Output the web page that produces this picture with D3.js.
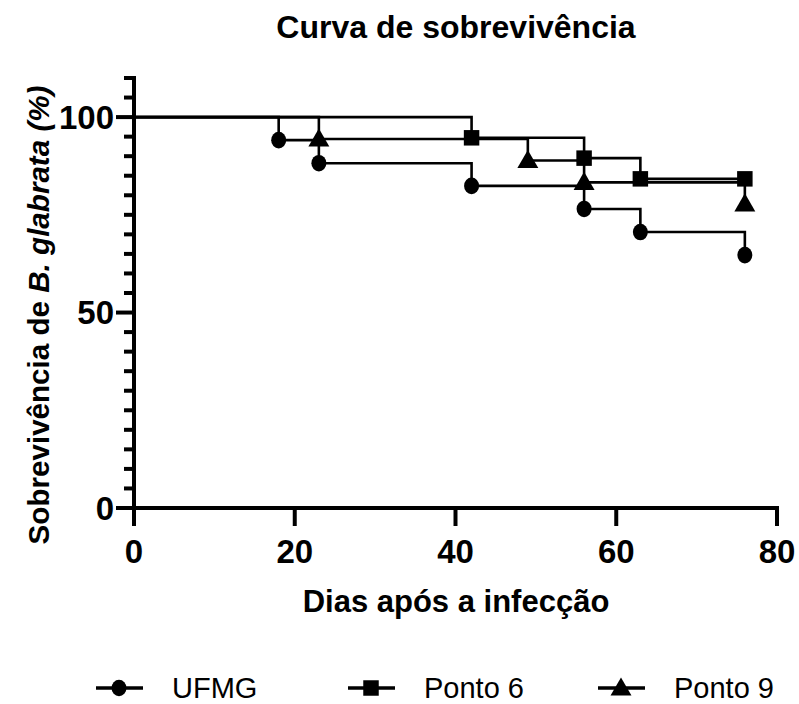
<!DOCTYPE html>
<html><head><meta charset="utf-8">
<script src="https://cdn.jsdelivr.net/npm/d3@7"></script>
<style>body{margin:0;background:#fff}svg{display:block}text{font-family:"Liberation Sans",Arial,sans-serif}</style>
</head><body>
<svg id="c" width="799" height="704"></svg>
<script>
const seriesNames = ["UFMG", "Ponto 6", "Ponto 9"];
const seriesSymbols = ["circle", "square", "triangle"];
const ufmgDays = [0, 18, 23, 42, 56, 63, 76];
const ufmgSurv = [100, 94.1, 88.2, 82.4, 76.5, 70.6, 64.7];
const ponto6Days = [0, 42, 56, 63, 76];
const ponto6Surv = [100, 94.7, 89.5, 84.2, 84.2];
const ponto9Days = [0, 23, 49, 56, 76];
const ponto9Surv = [100, 94.4, 88.9, 83.3, 77.8];
const xTicks = [0, 20, 40, 60, 80];
const yTicks = [0, 50, 100];

const series = [
  {name: seriesNames[0], sym: seriesSymbols[0], pts: ufmgDays.map((d,i)=>[d, ufmgSurv[i]])},
  {name: seriesNames[1], sym: seriesSymbols[1], pts: ponto6Days.map((d,i)=>[d, ponto6Surv[i]])},
  {name: seriesNames[2], sym: seriesSymbols[2], pts: ponto9Days.map((d,i)=>[d, ponto9Surv[i]])}
];

const svg = d3.select("#c");
const x = d3.scaleLinear().domain([0, 80]).range([134, 777]);
const y = d3.scaleLinear().domain([0, 110]).range([508, 78]);

const symType = {circle: d3.symbolCircle, square: d3.symbolSquare, triangle: d3.symbolTriangle};
const symSize = {circle: 190, square: 240, triangle: 190};
function drawSym(sel, sym) {
  if (sym === "circle") {
    sel.append("ellipse").attr("rx",7.5).attr("ry",8.3).attr("fill","#000");
  } else {
    sel.append("path").attr("d", d3.symbol().type(symType[sym]).size(symSize[sym]))
      .attr("transform", sym==="triangle" ? "translate(0,1.5)" : null).attr("fill","#000");
  }
}

// step curves
const line = d3.line().x(d=>x(d[0])).y(d=>y(d[1])).curve(d3.curveStepAfter);
series.forEach(s => {
  svg.append("path").attr("d", line(s.pts)).attr("fill","none").attr("stroke","#000").attr("stroke-width",2.6);
});
series.forEach(s => {
  s.pts.slice(1).forEach(d => {
    const g = svg.append("g").attr("transform", `translate(${x(d[0])},${y(d[1])})`);
    drawSym(g, s.sym);
  });
});

// y axis
const yMinor = d3.range(0, 111, 5);
const yAxis = svg.append("g").attr("transform", `translate(${x(0)},0)`);
yAxis.selectAll("line.minor").data(yMinor).enter().append("line")
  .attr("x1", d => yTicks.includes(d) ? -18 : -10).attr("x2", 0)
  .attr("y1", d=>y(d)).attr("y2", d=>y(d))
  .attr("stroke","#000").attr("stroke-width",4);
yAxis.append("line").attr("x1",0).attr("x2",0).attr("y1",y(0)+2).attr("y2",y(110)-2)
  .attr("stroke","#000").attr("stroke-width",4);
yAxis.selectAll("text").data(yTicks).enter().append("text")
  .attr("x",-20).attr("y",d=>y(d)).attr("dy","0.36em").attr("text-anchor","end")
  .attr("font-size",33).attr("font-weight","bold").text(d=>d);

// x axis
const xAxis = svg.append("g").attr("transform", `translate(0,${y(0)})`);
xAxis.append("line").attr("x1",x(0)-2).attr("x2",x(80)+2).attr("y1",0).attr("y2",0)
  .attr("stroke","#000").attr("stroke-width",4);
xAxis.selectAll("line.t").data(xTicks).enter().append("line")
  .attr("x1",d=>x(d)).attr("x2",d=>x(d)).attr("y1",0).attr("y2",18)
  .attr("stroke","#000").attr("stroke-width",4);
xAxis.selectAll("text").data(xTicks).enter().append("text")
  .attr("x",d=>x(d)).attr("y",55).attr("text-anchor","middle")
  .attr("font-size",33).attr("font-weight","bold").text(d=>d);

// titles
svg.append("text").attr("x",456).attr("y",38).attr("text-anchor","middle")
  .attr("font-size",32).attr("font-weight","bold").text("Curva de sobrevivência");
svg.append("text").attr("x",456).attr("y",612).attr("text-anchor","middle")
  .attr("font-size",31).attr("font-weight","bold").text("Dias após a infecção");
const yt = svg.append("text").attr("transform","translate(49,315) rotate(-90)").attr("text-anchor","middle")
  .attr("font-size",29.6).attr("font-weight","bold");
yt.append("tspan").text("Sobrevivência de ");
yt.append("tspan").attr("font-style","italic").text("B. glabrata (%)");

// legend
const legX = [96, 348, 598];
series.forEach((s,i) => {
  const g = svg.append("g").attr("transform",`translate(${legX[i]},688)`);
  g.append("line").attr("x1",0).attr("x2",47).attr("y1",0).attr("y2",0).attr("stroke","#000").attr("stroke-width",3.5);
  const m = g.append("g").attr("transform","translate(23,0)");
  drawSym(m, s.sym);
  g.append("text").attr("x",76).attr("y",0).attr("dy","0.36em").attr("font-size",29).text(s.name);
});
</script>
</body></html>
